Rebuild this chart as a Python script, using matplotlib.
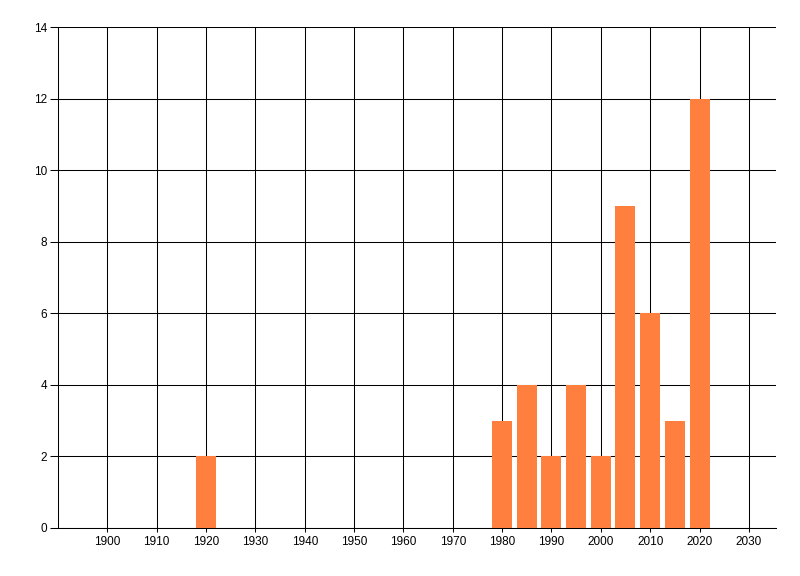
import matplotlib
matplotlib.use("Agg")
import matplotlib.pyplot as plt

years = [1920, 1980, 1985, 1990, 1995, 2000, 2005, 2010, 2015, 2020]
counts = [2, 3, 4, 2, 4, 2, 9, 6, 3, 12]
x_ticks = list(range(1900, 2031, 10))
y_ticks = list(range(0, 15, 2))

plt.rcParams['font.family'] = ['Liberation Sans', 'DejaVu Sans']

fig = plt.figure(figsize=(8.0, 5.76), dpi=100)
W, H = 800, 576
ax = fig.add_axes([58 / W, 1 - 528 / H, (776 - 58) / W, (528 - 27) / H])

ax.bar(years, counts, width=4.05, color='#FF7F3F', zorder=3, linewidth=0)

ax.set_xlim(1890, 2035.5)
ax.set_ylim(0, 14)
ax.set_xticks(x_ticks)
ax.set_xticklabels([str(v) for v in x_ticks])
ax.set_yticks(y_ticks)
ax.set_yticklabels([str(v) for v in y_ticks])

lw = 0.75
ax.grid(True, color='black', linewidth=lw, zorder=0)
ax.set_axisbelow(True)
for s in ['top', 'right']:
    ax.spines[s].set_visible(False)
for s in ['left', 'bottom']:
    ax.spines[s].set_linewidth(lw)
    ax.spines[s].set_color('black')

ax.tick_params(axis='y', length=6, width=lw, pad=2, labelsize=8.5, colors='black')
ax.tick_params(axis='x', length=3, width=lw, pad=3, labelsize=8.5, colors='black')

fig.savefig('out.png', dpi=100)
